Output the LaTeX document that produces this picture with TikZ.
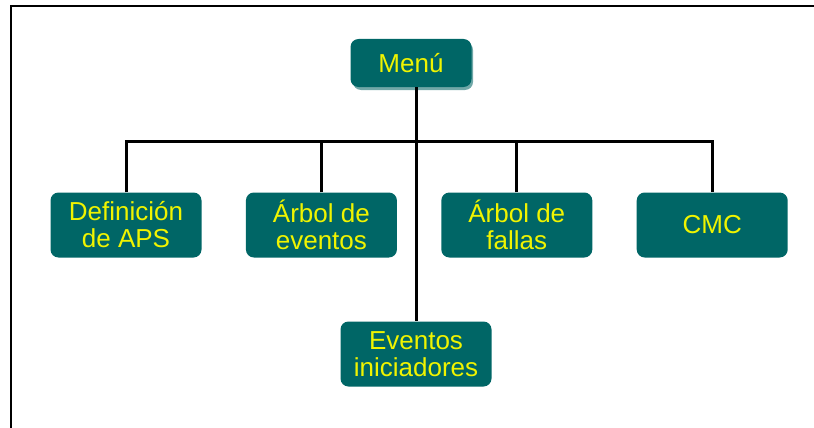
\documentclass[tikz,border=0pt]{standalone}
\usepackage{fontspec}
\setmainfont{Liberation Sans}
\usetikzlibrary{positioning}
\definecolor{boxteal}{RGB}{0,102,102}
\definecolor{shadeteal}{RGB}{112,168,168}
\definecolor{labelyellow}{RGB}{240,244,0}
\tikzset{
  item/.style={fill=boxteal, rounded corners=8pt, align=center, text=labelyellow,
    font=\fontsize{26}{27}\selectfont, minimum width=151pt, minimum height=65pt,
    inner sep=0pt},
  head/.style={item, minimum width=121pt, minimum height=48pt},
  link/.style={draw=black, line width=3pt},
  frame/.style={draw=black, line width=2.2pt},
}

\begin{document}
\begin{tikzpicture}[x=1pt, y=-1pt, node distance=44pt]
  \useasboundingbox (0,0) rectangle (814,428);
  \draw[frame] (11,428) -- (11,6) -- (814,6);
  % light edge under the menu box
  \fill[shadeteal, rounded corners=8pt] (353,42) rectangle (473,90);
  \node[head] (menu) at (411,63) {Menú};
  \node[item] (def) at (126,225) {Definición\\de APS};
  \node[item, right=of def] (arbev) {Árbol de\\eventos};
  \node[item, right=of arbev] (arbfa) {Árbol de\\fallas};
  \node[item, right=of arbfa] (cmc) {CMC};
  \node[item] (ini) at (416,354) {Eventos\\iniciadores};
  \coordinate (bar) at (0,141);
  \draw[link] (menu.south -| ini.north) -- (ini.north);
  \draw[link] (def.north) |- (cmc.north |- bar) -- (cmc.north);
  \draw[link] (arbev.north) -- (arbev.north |- bar);
  \draw[link] (arbfa.north) -- (arbfa.north |- bar);
\end{tikzpicture}
\end{document}
